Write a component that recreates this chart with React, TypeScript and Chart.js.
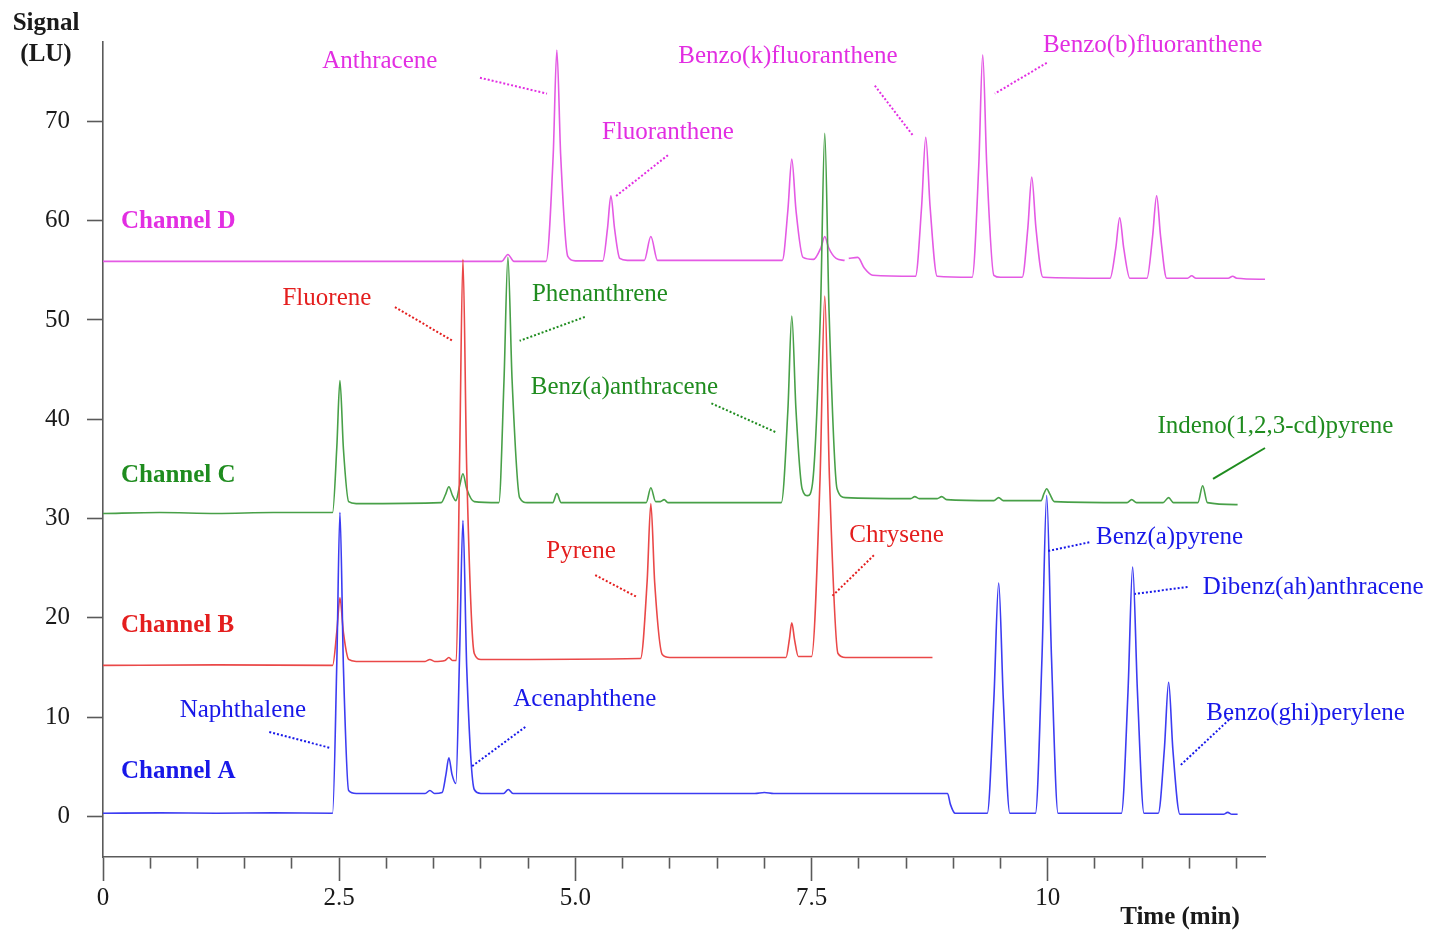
import React, { useEffect, useRef } from "react";
import { Chart, registerables } from "chart.js";

Chart.register(...registerables);

type Pt = [number, number | null];

// ---------- axes ----------
const X_MIN = 0;
const X_MAX = 12.3;
const X_STEP = 0.5;
const Y_MIN = -4.1;
const Y_MAX = 78;
const Y_STEP = 10;
const xMajorTicks = [0, 2.5, 5, 7.5, 10];
const xMajorLabels = ["0", "2.5", "5.0", "7.5", "10"];

// ---------- series: [time (min), signal (LU)] ----------
const channelA: Pt[] = [
  [0, 0.3], [0.6, 0.35], [1.2, 0.3], [1.8, 0.35], [2.43, 0.3],
  [2.475, 15.5], [2.508, 30.6], [2.545, 15], [2.6, 2.6], [2.68, 2.3],
  [3.41, 2.3], [3.46, 2.6], [3.51, 2.3], [3.59, 2.4], [3.63, 4.2], [3.661, 5.9], [3.695, 4.2],
  [3.735, 3.3], [3.775, 16.5], [3.81, 29.8], [3.85, 15], [3.93, 2.7], [4.0, 2.3],
  [4.24, 2.3], [4.29, 2.7], [4.34, 2.3], [6.9, 2.3], [7.0, 2.4], [7.1, 2.3],
  [8.94, 2.3], [8.97, 1.2], [9.02, 0.3],
  [9.36, 0.3], [9.43, 11.8], [9.481, 23.5], [9.53, 11.8], [9.6, 0.3],
  [9.87, 0.3], [9.94, 16.2], [9.989, 32.3], [10.04, 16], [10.11, 0.3],
  [10.78, 0.3], [10.85, 12.6], [10.899, 25.1], [10.95, 12.5], [11.02, 0.3],
  [11.17, 0.3], [11.235, 6.8], [11.28, 13.5], [11.325, 6.7], [11.4, 0.2],
  [11.86, 0.2], [11.905, 0.4], [11.95, 0.2], [12.01, 0.2],
];

const channelB: Pt[] = [
  [0, 15.2], [1.2, 15.25], [2.43, 15.2], [2.475, 18.6], [2.508, 22.0], [2.545, 18.5],
  [2.6, 15.8], [2.68, 15.6], [3.41, 15.6], [3.46, 15.8], [3.51, 15.6], [3.62, 15.7],
  [3.661, 16.0], [3.7, 15.7], [3.74, 15.7], [3.775, 36], [3.81, 56.1], [3.85, 35],
  [3.93, 16.4], [4.0, 15.8], [5.69, 15.9], [5.76, 23.7], [5.799, 31.5], [5.84, 23.5],
  [5.92, 16.3], [6.0, 16.0], [7.23, 16.0], [7.265, 17.8], [7.291, 19.5], [7.32, 17.8],
  [7.36, 16.1], [7.5, 16.1], [7.59, 34], [7.64, 52.4], [7.69, 34], [7.78, 16.4],
  [7.86, 16.0], [8.78, 16.0],
];

const channelC: Pt[] = [
  [0, 30.5], [0.6, 30.6], [1.2, 30.5], [1.8, 30.6], [2.43, 30.6], [2.475, 37.2],
  [2.508, 43.9], [2.545, 37], [2.6, 31.7], [2.68, 31.5], [3.58, 31.6], [3.625, 32.4],
  [3.661, 33.2], [3.7, 32.3], [3.735, 31.8], [3.775, 33.3], [3.81, 34.5], [3.85, 33],
  [3.93, 31.7], [4.19, 31.6], [4.245, 44], [4.286, 56.3], [4.33, 44], [4.41, 32.1],
  [4.49, 31.6], [4.76, 31.6], [4.804, 32.5], [4.85, 31.6], [5.75, 31.6], [5.799, 33.1],
  [5.85, 31.7], [5.9, 31.7], [5.94, 31.9], [5.98, 31.6], [7.18, 31.6], [7.25, 41],
  [7.291, 50.4], [7.335, 41], [7.4, 33], [7.46, 32.3], [7.51, 33.5], [7.595, 51],
  [7.64, 68.8], [7.685, 51], [7.77, 33], [7.86, 32.1], [8.55, 32.0], [8.593, 32.2],
  [8.64, 32.0], [8.83, 32.0], [8.878, 32.2], [8.93, 31.9], [9.43, 31.8], [9.481, 32.1],
  [9.53, 31.8], [9.93, 31.8], [9.96, 32.5], [9.989, 33.0], [10.02, 32.5], [10.07, 31.7],
  [10.84, 31.6], [10.889, 31.9], [10.94, 31.6], [11.22, 31.6], [11.28, 32.1], [11.33, 31.6],
  [11.59, 31.6], [11.64, 33.3], [11.69, 31.6], [12.01, 31.4],
];

const channelD: Pt[] = [
  [0, 55.9], [4.22, 55.9], [4.286, 56.6], [4.35, 55.9], [4.69, 55.9], [4.765, 66.5],
  [4.804, 77.2], [4.845, 66.5], [4.92, 56.4], [5.0, 55.95], [5.29, 55.95], [5.34, 59.2],
  [5.376, 62.5], [5.415, 59.2], [5.47, 56.2], [5.55, 56.0], [5.73, 56.0], [5.799, 58.4],
  [5.87, 56.0], [7.19, 56.0], [7.25, 61.1], [7.291, 66.2], [7.335, 61.1], [7.41, 56.3],
  [7.52, 56.1], [7.6, 57.3], [7.64, 58.4], [7.68, 57.3], [7.76, 56.2], [7.85, 56.0],
  [7.87, null], [7.894, 56.2], [7.989, 56.3], [8.06, 55.2], [8.148, 54.5], [8.6, 54.4],
  [8.665, 61.4], [8.709, 68.4], [8.755, 61.4], [8.83, 54.4], [9.2, 54.3], [9.27, 65.5],
  [9.312, 76.7], [9.355, 65.5], [9.43, 54.5], [9.5, 54.3], [9.73, 54.3], [9.79, 59.3],
  [9.831, 64.4], [9.875, 59.3], [9.95, 54.3], [10.66, 54.2], [10.72, 57.2], [10.762, 60.3],
  [10.805, 57.2], [10.87, 54.2], [11.05, 54.2], [11.11, 58.4], [11.153, 62.5], [11.195, 58.4],
  [11.26, 54.2], [11.48, 54.2], [11.524, 54.45], [11.57, 54.2], [11.91, 54.2], [11.958, 54.4],
  [12.0, 54.2], [12.3, 54.1],
];

const channelNames = ["Channel A", "Channel B", "Channel C", "Channel D"];

// ---------- styles ----------
const FONT = "'Liberation Serif', 'Times New Roman', Times, serif";
const FONT_SIZE = 25;
const AXIS_COLOR = "#5a5a5a";
const TEXT_COLOR = "#1a1a1a";
const lineColors = ["#3c3cf2", "#ea4848", "#48a048", "#e45ae4"];
const textColors = ["#1818e8", "#e41e1e", "#1f8c1f", "#e22ee2"];

// ---------- annotations (data coordinates) ----------
type Ann = { text: string; ch: number; at: [number, number]; from?: [number, number]; to?: [number, number]; solid?: boolean };
const peakLabels: Ann[] = [
  { text: "Anthracene", ch: 3, at: [2.93, 76.0], from: [3.99, 74.4], to: [4.7, 72.8] },
  { text: "Fluoranthene", ch: 3, at: [5.98, 68.9], from: [5.98, 66.6], to: [5.42, 62.4] },
  { text: "Benzo(k)fluoranthene", ch: 3, at: [7.25, 76.5], from: [8.17, 73.6], to: [8.58, 68.5] },
  { text: "Benzo(b)fluoranthene", ch: 3, at: [11.11, 77.7], from: [9.99, 75.9], to: [9.44, 72.8] },
  { text: "Fluorene", ch: 1, at: [2.37, 52.2], from: [3.09, 51.3], to: [3.7, 47.9] },
  { text: "Pyrene", ch: 1, at: [5.06, 26.7], from: [5.21, 24.3], to: [5.65, 22.1] },
  { text: "Chrysene", ch: 1, at: [8.4, 28.3], from: [8.16, 26.3], to: [7.72, 22.2] },
  { text: "Phenanthrene", ch: 2, at: [5.26, 52.6], from: [5.1, 50.3], to: [4.41, 47.9] },
  { text: "Benz(a)anthracene", ch: 2, at: [5.52, 43.2], from: [6.44, 41.6], to: [7.12, 38.7] },
  { text: "Indeno(1,2,3-cd)pyrene", ch: 2, at: [12.41, 39.3], from: [12.3, 37.1], to: [11.75, 34.0], solid: true },
  { text: "Naphthalene", ch: 0, at: [1.48, 10.7], from: [1.76, 8.5], to: [2.4, 6.9] },
  { text: "Acenaphthene", ch: 0, at: [5.1, 11.8], from: [4.47, 9.0], to: [3.9, 5.0] },
  { text: "Benz(a)pyrene", ch: 0, at: [11.29, 28.1], from: [10.44, 27.6], to: [9.99, 26.7] },
  { text: "Dibenz(ah)anthracene", ch: 0, at: [12.81, 23.1], from: [11.48, 23.1], to: [10.92, 22.4] },
  { text: "Benzo(ghi)perylene", ch: 0, at: [12.73, 10.4], from: [11.95, 10.0], to: [11.4, 5.1] },
];
const channelLabelAt: [number, number][] = [
  [0.19, 4.5], [0.19, 19.2], [0.19, 34.3], [0.19, 59.9],
];

const isMajor = (v: number) => xMajorTicks.some((m) => Math.abs(m - v) < 1e-6);

const labelsPlugin = {
  id: "chromLabels",
  afterDraw(chart: any) {
    const { ctx, chartArea } = chart;
    const xs = chart.scales.x;
    const ys = chart.scales.y;
    ctx.save();
    ctx.textBaseline = "middle";
    // peak labels + leader lines
    for (const a of peakLabels) {
      const color = textColors[a.ch];
      ctx.font = `${FONT_SIZE}px ${FONT}`;
      ctx.fillStyle = color;
      ctx.textAlign = "center";
      ctx.fillText(a.text, xs.getPixelForValue(a.at[0]), ys.getPixelForValue(a.at[1]));
      if (a.from && a.to) {
        ctx.beginPath();
        ctx.strokeStyle = color;
        ctx.lineWidth = 2;
        ctx.setLineDash(a.solid ? [] : [2, 2]);
        ctx.moveTo(xs.getPixelForValue(a.from[0]), ys.getPixelForValue(a.from[1]));
        ctx.lineTo(xs.getPixelForValue(a.to[0]), ys.getPixelForValue(a.to[1]));
        ctx.stroke();
      }
    }
    ctx.setLineDash([]);
    // channel labels
    ctx.font = `bold ${FONT_SIZE}px ${FONT}`;
    ctx.textAlign = "left";
    channelNames.forEach((name, i) => {
      ctx.fillStyle = textColors[i];
      ctx.fillText(name, xs.getPixelForValue(channelLabelAt[i][0]), ys.getPixelForValue(channelLabelAt[i][1]));
    });
    // axis titles
    ctx.fillStyle = TEXT_COLOR;
    ctx.textAlign = "center";
    ctx.fillText("Signal", chartArea.left - 57, chartArea.top - 18);
    ctx.fillText("(LU)", chartArea.left - 57, chartArea.top + 13);
    ctx.fillText("Time (min)", chartArea.right - 85, chartArea.bottom + 61);
    ctx.restore();
  },
};

export default function App() {
  const ref = useRef<HTMLCanvasElement | null>(null);
  useEffect(() => {
    const canvas = ref.current;
    if (!canvas) return;
    const series = [channelA, channelB, channelC, channelD];
    const chart = new Chart(canvas, {
      type: "line",
      data: {
        datasets: series.map((d, i) => ({
          label: channelNames[i],
          data: d as any,
          borderColor: lineColors[i],
          backgroundColor: lineColors[i],
          borderWidth: 1.6,
          pointRadius: 0,
          cubicInterpolationMode: "monotone" as const,
          spanGaps: false,
          fill: false,
        })),
      },
      options: {
        responsive: false,
        animation: false,
        devicePixelRatio: 1,
        layout: { padding: { top: 42, right: 168, left: 0, bottom: 0 } },
        plugins: { legend: { display: false }, tooltip: { enabled: false } },
        scales: {
          x: {
            type: "linear",
            min: X_MIN,
            max: X_MAX,
            afterFit: (s: any) => { s.height = 75; },
            border: { display: true, color: AXIS_COLOR, width: 1.6 },
            grid: {
              drawOnChartArea: false,
              drawTicks: true,
              tickLength: 24,
              tickColor: AXIS_COLOR,
              tickWidth: 1.6,
              tickBorderDash: (c: any) => (c.tick && isMajor(c.tick.value) ? [] : [11, 60]),
            },
            ticks: {
              stepSize: X_STEP,
              includeBounds: false,
              autoSkip: false,
              maxRotation: 0,
              minRotation: 0,
              padding: 2,
              color: TEXT_COLOR,
              font: { family: FONT, size: FONT_SIZE },
              callback: (v: any) => {
                const i = xMajorTicks.findIndex((m) => Math.abs(m - Number(v)) < 1e-6);
                return i >= 0 ? xMajorLabels[i] : "";
              },
            },
          },
          y: {
            type: "linear",
            min: Y_MIN,
            max: Y_MAX,
            afterFit: (s: any) => { s.width = 103; },
            border: { display: true, color: AXIS_COLOR, width: 1.6 },
            grid: { drawOnChartArea: false, drawTicks: true, tickLength: 16, tickColor: AXIS_COLOR, tickWidth: 1.6 },
            ticks: {
              stepSize: Y_STEP,
              includeBounds: false,
              padding: 17,
              color: TEXT_COLOR,
              font: { family: FONT, size: FONT_SIZE },
              callback: (v: any) => String(v),
            },
          },
        },
      },
      plugins: [labelsPlugin],
    });
    return () => chart.destroy();
  }, []);
  return (
    <div style={{ position: "absolute", left: 0, top: 0, width: 1433, height: 932, background: "#fff" }}>
      <canvas ref={ref} width={1433} height={932} style={{ display: "block", width: 1433, height: 932 }} />
    </div>
  );
}
